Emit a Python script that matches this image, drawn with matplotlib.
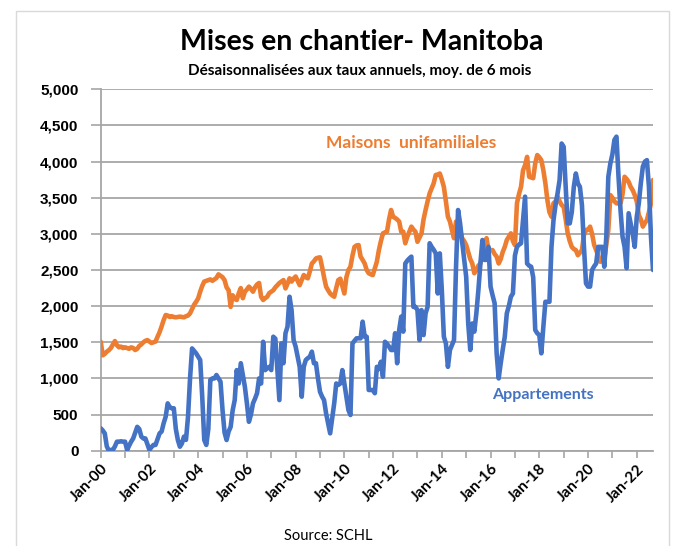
import numpy as np
import matplotlib
matplotlib.use("Agg")
import matplotlib.pyplot as plt
from matplotlib.patches import Rectangle
from matplotlib.ticker import FuncFormatter

# Monthly data, Jan 2000 .. Sep 2022 (seasonally adjusted annual rates, 6-month avg)
maisons = [
    1508, 1320, 1340, 1370, 1390, 1420, 1470, 1517, 1460, 1430, 1440, 1420,   # 2000
    1430, 1420, 1410, 1430, 1420, 1393, 1410, 1450, 1470, 1500, 1520, 1530,   # 2001
    1510, 1490, 1500, 1510, 1577, 1640, 1720, 1807, 1877, 1870, 1850, 1860,   # 2002
    1850, 1845, 1850, 1855, 1850, 1845, 1860, 1870, 1900, 1960, 2020, 2060,   # 2003
    2108, 2200, 2280, 2340, 2350, 2360, 2370, 2350, 2370, 2390, 2440, 2420,   # 2004
    2400, 2360, 2260, 2220, 1990, 2150, 2100, 2085, 2180, 2250, 2110, 2200,   # 2005
    2230, 2270, 2240, 2200, 2260, 2300, 2320, 2130, 2085, 2110, 2130, 2180,   # 2006
    2200, 2220, 2260, 2290, 2320, 2340, 2360, 2245, 2310, 2385, 2340, 2380,   # 2007
    2410, 2350, 2290, 2360, 2430, 2400, 2385, 2480, 2590, 2620, 2660, 2670,   # 2008
    2675, 2545, 2400, 2270, 2220, 2175, 2150, 2130, 2250, 2360, 2380, 2280,   # 2009
    2175, 2400, 2500, 2545, 2700, 2820, 2840, 2845, 2685, 2640, 2590, 2500,   # 2010
    2455, 2440, 2430, 2520, 2615, 2775, 2900, 3007, 3020, 3030, 3200, 3330,   # 2011
    3237, 3220, 3200, 3170, 3030, 3030, 2870, 2960, 3030, 3100, 3060, 3030,   # 2012
    2890, 2950, 3007, 3200, 3330, 3450, 3560, 3630, 3700, 3815, 3820, 3835,   # 2013
    3750, 3650, 3450, 3237, 3170, 3050, 2940, 3170, 3100, 3055, 2940, 2900,   # 2014
    2845, 2750, 2650, 2590, 2455, 2500, 2560, 2590, 2700, 2775, 2940, 2775,   # 2015
    2775, 2775, 2720, 2685, 2590, 2650, 2750, 2820, 2915, 2960, 3007, 2900,   # 2016
    2845, 3423, 3550, 3650, 3880, 3950, 4065, 3790, 3780, 3770, 3975, 4090,   # 2017
    4060, 4020, 3880, 3700, 3465, 3300, 3237, 3423, 3450, 3515, 3450, 3400,   # 2018
    3375, 3200, 3007, 2900, 2820, 2790, 2775, 2705, 2740, 2775, 2985, 3055,   # 2019
    3055, 3100, 3000, 2850, 2775, 2700, 2615, 2620, 2640, 2850, 3055, 3537,   # 2020
    3500, 3450, 3423, 3420, 3423, 3550, 3790, 3760, 3720, 3650, 3605, 3537,   # 2021
    3450, 3260, 3200, 3100, 3150, 3190, 3300, 3420, 3745,                     # 2022
]
appartements = [
    310, 280, 240, 60, 0, 10, 10, 60, 125, 125, 130, 125,                     # 2000
    125, 10, 70, 125, 170, 250, 330, 300, 195, 170, 170, 90,                  # 2001
    10, 50, 80, 80, 160, 240, 265, 380, 470, 655, 600, 587,                   # 2002
    587, 300, 148, 55, 100, 195, 150, 470, 1000, 1415, 1380, 1347,            # 2003
    1300, 1255, 747, 148, 80, 300, 980, 1000, 1000, 1047, 1000, 955,          # 2004
    563, 250, 148, 265, 330, 560, 700, 1115, 930, 1210, 1050, 885,            # 2005
    655, 400, 500, 655, 720, 795, 1000, 930, 1507, 1115, 1140, 1160,          # 2006
    1115, 1577, 1550, 1115, 700, 1485, 1210, 1625, 1715, 2130, 1945, 1530,    # 2007
    1440, 1300, 1160, 747, 1160, 1255, 1280, 1300, 1370, 1210, 1210, 1000,    # 2008
    816, 750, 700, 517, 380, 240, 450, 655, 930, 910, 930, 1115,              # 2009
    930, 747, 563, 494, 1485, 1520, 1555, 1555, 1555, 1785, 1577, 1577,       # 2010
    840, 840, 840, 795, 1160, 1130, 1230, 1023, 1507, 1480, 1440, 1393,       # 2011
    1393, 1625, 1210, 1670, 1855, 1647, 2590, 2630, 2660, 2685, 1990, 1990,   # 2012
    1945, 1530, 1945, 1600, 1900, 1990, 2870, 2820, 2780, 2730, 2175, 2730,   # 2013
    2220, 1577, 1485, 1160, 1393, 1460, 1530, 2545, 3330, 3145, 2890, 2650,   # 2014
    2405, 1760, 1393, 1760, 1647, 1900, 2220, 2590, 2915, 2640, 2640, 2820,   # 2015
    2270, 2150, 2040, 1347, 1000, 1210, 1400, 1577, 1900, 2000, 2130, 2175,   # 2016
    2700, 2820, 2850, 2870, 3200, 3515, 2590, 2560, 2545, 2400, 1670, 1625,   # 2017
    1600, 1347, 1715, 2060, 2060, 2060, 2820, 3190, 3400, 3560, 3745, 4250,   # 2018
    4205, 3650, 3145, 3145, 3300, 3650, 3835, 3700, 3650, 3400, 2820, 2315,   # 2019
    2270, 2270, 2500, 2550, 2590, 2820, 2820, 2820, 2545, 2960, 3790, 3975,   # 2020
    4100, 4300, 4345, 3800, 3330, 2960, 2820, 2525, 3285, 3145, 3000, 2820,   # 2021
    3237, 3420, 3700, 3930, 4000, 4020, 3650, 2960, 2500,                     # 2022
]
years = list(range(2000, 2023))
tick_labels = [f"Jan-{y % 100:02d}" if (y % 2 == 0) else "" for y in years]

title = "Mises en chantier- Manitoba"
subtitle = "Désaisonnalisées aux taux annuels, moy. de 6 mois"
label_maisons = "Maisons  unifamiliales"
label_apparts = "Appartements"
source = "Source: SCHL"

ORANGE = "#ED7D31"
BLUE = "#4472C4"
GRID = "#A6A6A6"

W, H = 681, 546
fig = plt.figure(figsize=(W / 100, H / 100), dpi=100)

def fx(px):
    return px / W

def fy(py):
    return 1 - py / H

# outer chart border
fig.patches.append(Rectangle((fx(16), fy(560)), fx(669) - fx(16), fy(11) - fy(560),
                             transform=fig.transFigure, fill=False,
                             edgecolor="#D9D9D9", linewidth=1.0))

left, right, top, bottom = 100.7, 653.0, 89.3, 450.7
ax = fig.add_axes([fx(left), fy(bottom), fx(right) - fx(left), fy(top) - fy(bottom)])

x = np.arange(len(maisons))
ax.plot(x, maisons, color=ORANGE, linewidth=3.3, solid_joinstyle="round",
        solid_capstyle="round", zorder=3)
ax.plot(np.arange(len(appartements)), appartements, color=BLUE, linewidth=3.3,
        solid_joinstyle="round", solid_capstyle="round", zorder=3)

ax.set_xlim(0, len(maisons) - 1)
ax.set_ylim(0, 5000)
ax.set_yticks(np.arange(0, 5001, 500))
ax.yaxis.set_major_formatter(FuncFormatter(lambda v, p: f"{int(v):,}"))
ax.grid(axis="y", color=GRID, linewidth=1.3)
ax.set_axisbelow(True)

xt = [12 * i for i in range(len(years))]
ax.set_xticks(xt)
ax.set_xticklabels(tick_labels, rotation=45, ha="right", rotation_mode="anchor",
                   fontsize=11, fontweight="bold", family="Lato")
for lab in ax.get_yticklabels():
    lab.set_fontsize(11)
    lab.set_fontweight("bold")
    lab.set_family("Liberation Sans")

ax.tick_params(axis="x", length=5, color=GRID, width=1.2, pad=3)
ax.tick_params(axis="y", length=7, color=GRID, width=1.2, pad=9)

for s in ["top", "right"]:
    ax.spines[s].set_visible(False)
ax.spines["left"].set_color(GRID)
ax.spines["left"].set_linewidth(1.3)
ax.spines["bottom"].set_color(GRID)
ax.spines["bottom"].set_linewidth(1.3)

fig.text(fx(362), fy(42), title, ha="center", va="center", fontsize=20.5,
         fontweight="bold", family="Lato")
fig.text(fx(360), fy(71), subtitle, ha="center", va="center", fontsize=11,
         fontweight="bold", family="Lato")
fig.text(fx(411), fy(143), label_maisons, ha="center", va="center", fontsize=12.5,
         fontweight="bold", family="Lato", color=ORANGE)
fig.text(fx(543), fy(395), label_apparts, ha="center", va="center", fontsize=11.5,
         fontweight="bold", family="Lato", color=BLUE)
fig.text(fx(328), fy(536), source, ha="center", va="center", fontsize=10.5,
         family="Lato")

fig.savefig("out.png", dpi=100)
